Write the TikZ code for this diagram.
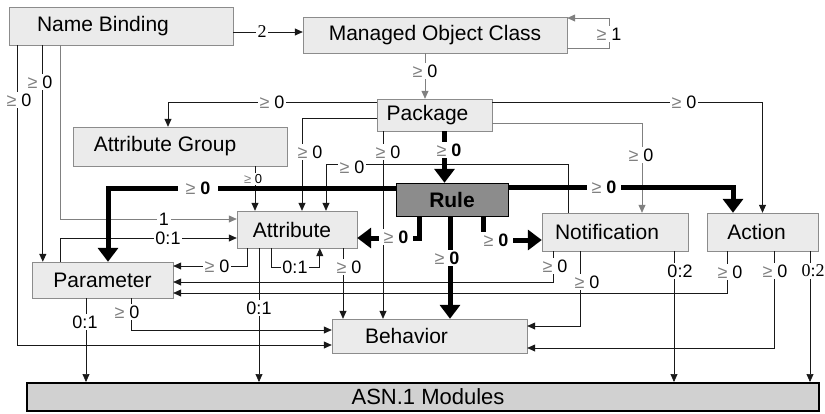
\documentclass[tikz,border=0pt]{standalone}
\usepackage{fontspec}
\setmainfont{Liberation Sans}
\newfontfamily\serifnum{Liberation Serif}
\usetikzlibrary{arrows.meta}
\newcommand\gez[1]{{\color{gray}≥} #1}

\begin{document}
\begin{tikzpicture}[x=1pt,y=-1pt,
  box/.style={draw=black!45,fill=black!8,inner sep=0pt,font=\fontsize{21}{23}\selectfont},
  ln/.style={draw=black!90,line width=0.7pt,-{Triangle[length=8pt,width=7pt]}},
  lng/.style={ln,draw=black!50},
  tk/.style={line width=5pt,-{Triangle[length=14pt,width=20pt]}},
  lab/.style={fill=white,inner sep=1.5pt,font=\fontsize{18}{18}\selectfont},
  blab/.style={lab,inner xsep=5pt},
  slab/.style={lab,inner sep=1pt,font=\fontsize{13}{13}\selectfont}]
\useasboundingbox (0,0) rectangle (825,413);

% boxes
\node[box,minimum width=224,minimum height=38] (nb) at (121,26) {Name Binding\hspace*{36pt}};
\node[box,minimum width=264,minimum height=36] (moc) at (435,35) {Managed Object Class};
\node[box,minimum width=115,minimum height=32] (pkg) at (434.5,115) {Package\hspace*{14pt}};
\node[box,minimum width=214,minimum height=39] (ag) at (180,146.5) {Attribute Group\hspace*{30pt}};
\node[box,draw=black,fill=black!45,minimum width=112,minimum height=33,font=\fontsize{21}{23}\selectfont\bfseries] (rule) at (452,199.5) {Rule};
\node[box,minimum width=120,minimum height=37] (attr) at (297,229.5) {Attribute\hspace*{10pt}};
\node[box,minimum width=146,minimum height=38] (notif) at (615,232) {Notification\hspace*{16pt}};
\node[box,minimum width=111,minimum height=38] (act) at (762.5,232) {Action\hspace*{12pt}};
\node[box,minimum width=141,minimum height=36] (par) at (102.5,280) {Parameter};
\node[box,minimum width=195,minimum height=34] (beh) at (429.5,336) {Behavior\hspace*{46pt}};
\node[box,draw=black,line width=2pt,fill=black!18,minimum width=792,minimum height=28,font=\fontsize{22}{24}\selectfont] (asn) at (423,397) {\hspace*{10pt}ASN.1 Modules};

% thin connectors
\draw[ln] ([yshift=-6]nb.east) -- ([yshift=3]moc.west);
\draw[lng] ([yshift=-13]moc.east) -- ++(42,0) |- ([yshift=17]moc.east);
\draw[lng] ([xshift=-10]moc.south) -- ([xshift=-9.5]pkg.north);
\draw[ln] ([yshift=13]pkg.west) -| ([xshift=-12]ag.north);
\draw[ln] ([yshift=-3]pkg.west) -| ([xshift=5]attr.north);
\draw[lng] ([yshift=-8]pkg.east) -| ([xshift=27]notif.north);
\draw[ln] ([yshift=13]pkg.east) -| (act.north);
\draw[ln] ([xshift=-51.5]pkg.south) -- ([xshift=-46.5]beh.north);
\draw[ln] ([xshift=-47]notif.north) -- ++(0,-48) -| ([xshift=29]attr.north);
\draw[ln] ([xshift=75]ag.south) -- ([xshift=-42]attr.north);
\draw[ln] ([xshift=11]attr.south west) |- ([yshift=14]par.east);
\draw[ln] ([xshift=35]attr.south west) -- ++(0,19) -| ([xshift=83]attr.south west);
\draw[lng] ([xshift=52]nb.south west) |- ([yshift=10.5]attr.west);
\draw[ln] ([xshift=29]par.north west) |- ([yshift=-8.5]attr.west);
\draw[ln,line width=1.1pt] ([xshift=34]nb.south west) -- ([xshift=11]par.north west);
\draw[ln] ([xshift=9]nb.south west) |- ([yshift=-9]beh.west);
\draw[ln] ([xshift=100]par.south west) |- ([yshift=6]beh.west);
\draw[ln] ([xshift=-16.5]par.south) -- ([xshift=-337]asn.north);
\draw[ln] ([xshift=-38]attr.south) -- ([xshift=-164]asn.north);
\draw[ln] ([xshift=46]attr.south) -- ([xshift=-86.5]beh.north);
\draw[ln] ([xshift=-35.5]act.south) |- ([yshift=-13]par.east);
\draw[ln] ([xshift=-62]notif.south) |- ([yshift=-2]par.east);
\draw[ln] ([xshift=-35]notif.south) |- ([yshift=10]beh.east);
\draw[ln] ([xshift=11.5]act.south) |- ([yshift=-12]beh.east);
\draw[ln] ([xshift=59]notif.south) -- ([xshift=251]asn.north);
\draw[ln] ([xshift=47.5]act.south) -- ([xshift=387]asn.north);

% thick connectors from Rule
\draw[tk] ([xshift=10]pkg.south) -- ([xshift=-7.5]rule.north);
\draw[tk] ([yshift=11.5]rule.west) -| ([xshift=5.5]par.north);
\draw[tk] ([yshift=12.5]rule.east) -| ([xshift=-29.5]act.north);
\draw[tk] ([xshift=-33]rule.south) |- ([yshift=-8.5]attr.east);
\draw[tk] ([xshift=-2]rule.south) -- ([xshift=20.5]beh.north);
\draw[tk] ([xshift=31]rule.south) |- ([yshift=-8]notif.west);

% multiplicities
\node[lab] (l1) at (262,32) {\serifnum 2};
\node[lab] (l2) at (609,34) {\gez{1}};
\node[lab] (l3) at (425,71) {\gez{0}};
\node[lab] (l4) at (272,102) {\gez{0}};
\node[lab] (l5) at (310,152) {\gez{0}};
\node[blab] (l6) at (449,150) {\gez{\bfseries 0}};
\node[lab] (l7) at (641,155) {\gez{0}};
\node[lab] (l8) at (684,102) {\gez{0}};
\node[lab] (l9) at (388,152) {\gez{0}};
\node[lab] (l10) at (352,167) {\gez{0}};
\node[slab] (l11) at (253,179) {\gez{0}};
\node[blab,inner xsep=8pt] (l12) at (198,188) {\gez{\bfseries 0}};
\node[blab] (l13) at (604,187) {\gez{\bfseries 0}};
\node[blab] (l14) at (396,237) {\gez{\bfseries 0}};
\node[blab] (l15) at (447,258) {\gez{\bfseries 0}};
\node[blab] (l16) at (496,240) {\gez{\bfseries 0}};
\node[lab] (l17) at (217,266) {\gez{0}};
\node[lab] (l18) at (295,267) {0:1};
\node[lab] (l19) at (164,219) {1};
\node[lab] (l20) at (168,238) {0:1};
\node[lab] (l21) at (40,82) {\gez{0}};
\node[lab] (l22) at (19,100) {\gez{0}};
\node[lab] (l23) at (127,312) {\gez{0}};
\node[lab] (l24) at (85,322) {0:1};
\node[lab] (l25) at (259,308) {0:1};
\node[lab] (l26) at (349,267) {\gez{0}};
\node[lab] (l27) at (730,272) {\gez{0}};
\node[lab] (l28) at (555,266) {\gez{0}};
\node[lab] (l29) at (587,282) {\gez{0}};
\node[lab] (l30) at (775,271) {\gez{0}};
\node[lab] (l31) at (680,271) {0:2};
\node[lab] (l32) at (813,271) {\serifnum 0:2};

\end{tikzpicture}
\end{document}
